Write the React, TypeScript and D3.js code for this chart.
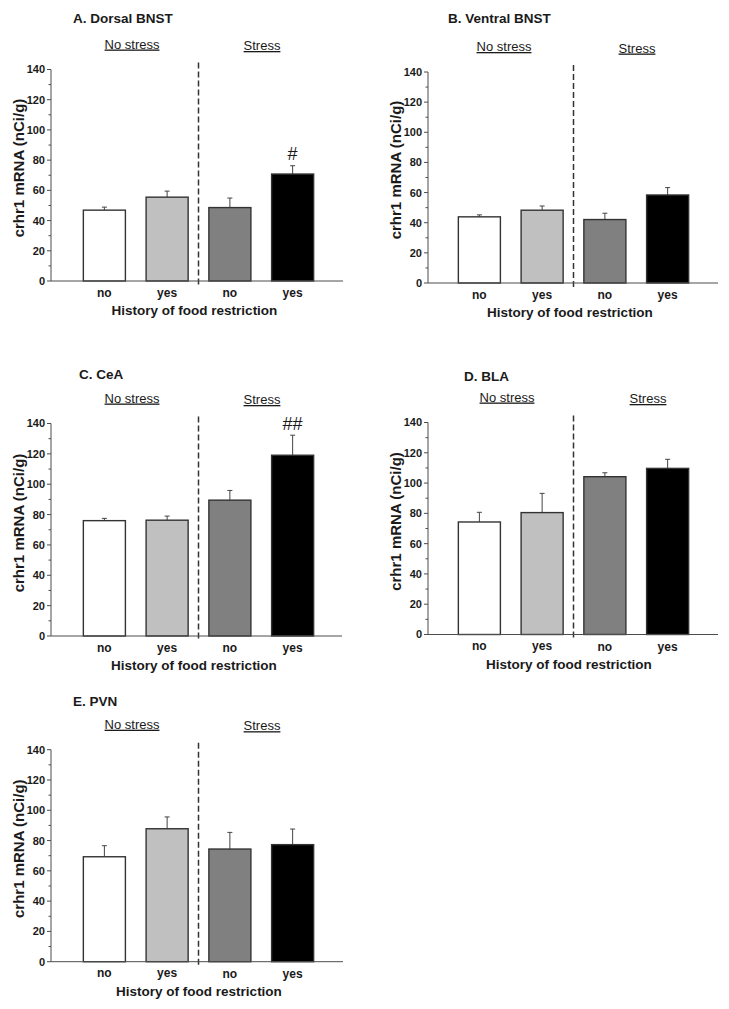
import React from "react";
import * as d3 from "d3";

// ---------- DATA ----------
const groupLabels = ["no", "yes", "no", "yes"];
const conditionLabels = ["No stress", "Stress"];
const yTicks = [0, 20, 40, 60, 80, 100, 120, 140];
const yMinorTicks = [10, 30, 50, 70, 90, 110, 130];
const yLabel = "crhr1 mRNA (nCi/g)";
const xLabel = "History of food restriction";
const panelTitles = ["A. Dorsal BNST", "B. Ventral BNST", "C. CeA", "D. BLA", "E. PVN"];

const meansA = [46.9, 55.5, 48.6, 70.8];
const errsA = [2.0, 4.0, 6.3, 5.5];
const marksA = ["", "", "", "#"];

const meansB = [43.9, 48.3, 42.1, 58.4];
const errsB = [1.3, 2.8, 4.2, 4.9];
const marksB = ["", "", "", ""];

const meansC = [76.0, 76.3, 89.5, 119.1];
const errsC = [1.5, 2.7, 6.4, 13.2];
const marksC = ["", "", "", "##"];

const meansD = [74.3, 80.5, 104.2, 109.7];
const errsD = [6.4, 12.7, 2.6, 6.0];
const marksD = ["", "", "", ""];

const meansE = [69.3, 87.8, 74.4, 77.3];
const errsE = [7.3, 7.8, 11.0, 10.3];
const marksE = ["", "", "", ""];

// ---------- STYLE / LAYOUT ----------
const barFills = ["#ffffff", "#c0c0c0", "#808080", "#000000"];
const FONT = "'Liberation Sans', Arial, sans-serif";
const TEXT = "#1a1a1a";
const AXIS = "#4d4d4d";

type PanelLayout = {
  left: number; right: number; y0: number; y140: number;
  bandStart: number; titleX: number; titleY: number;
  noStressX: number; stressX: number; xTitleX: number;
};

const layouts: PanelLayout[] = [
  { left: 51, right: 343, y0: 281, y140: 69.5, bandStart: 73, titleX: 73, titleY: 22.5, noStressX: 132, stressX: 262, xTitleX: 194.5 },
  { left: 428, right: 718, y0: 283, y140: 72, bandStart: 448, titleX: 448, titleY: 22.5, noStressX: 504, stressX: 637, xTitleX: 570 },
  { left: 51, right: 342, y0: 636, y140: 423.5, bandStart: 73, titleX: 79, titleY: 379, noStressX: 132, stressX: 262, xTitleX: 194 },
  { left: 428, right: 718, y0: 634.5, y140: 422.5, bandStart: 448, titleX: 464, titleY: 380.5, noStressX: 507, stressX: 648, xTitleX: 569 },
  { left: 51, right: 343, y0: 961.7, y140: 749.7, bandStart: 73, titleX: 73, titleY: 706, noStressX: 132, stressX: 262, xTitleX: 199 },
];

const panelData = [
  { means: meansA, errs: errsA, marks: marksA },
  { means: meansB, errs: errsB, marks: marksB },
  { means: meansC, errs: errsC, marks: marksC },
  { means: meansD, errs: errsD, marks: marksD },
  { means: meansE, errs: errsE, marks: marksE },
];

function Panel({ idx }: { idx: number }) {
  const L = layouts[idx];
  const { means, errs, marks } = panelData[idx];
  const y = d3.scaleLinear().domain([0, 140]).range([L.y0, L.y140]);
  const x = d3
    .scaleBand<number>()
    .domain(groupLabels.map((_, i) => i))
    .range([L.bandStart, L.bandStart + 251])
    .paddingInner(0.33)
    .paddingOuter(0.165);
  const bw = x.bandwidth();
  const dashX = ((x(1)! + bw) + x(2)!) / 2;

  return (
    <g>
      {/* title */}
      <text x={L.titleX} y={L.titleY} fontFamily={FONT} fontWeight="bold" fontSize={13.5} fill={TEXT}>
        {panelTitles[idx]}
      </text>
      {/* condition labels */}
      <text x={L.noStressX} y={L.y140 - 21} textAnchor="middle" fontFamily={FONT} fontSize={13} fill={TEXT}
        style={{ textDecoration: "underline" }}>
        {conditionLabels[0]}
      </text>
      <text x={L.stressX} y={L.y140 - 19.5} textAnchor="middle" fontFamily={FONT} fontSize={13} fill={TEXT}
        style={{ textDecoration: "underline" }}>
        {conditionLabels[1]}
      </text>

      {/* bars */}
      {means.map((m, i) => (
        <g key={i}>
          <line x1={x(i)! + bw / 2} x2={x(i)! + bw / 2} y1={y(m)} y2={y(m + errs[i])} stroke="#444" strokeWidth={1} />
          <line x1={x(i)! + bw / 2 - 2.5} x2={x(i)! + bw / 2 + 2.5} y1={y(m + errs[i])} y2={y(m + errs[i])} stroke="#444" strokeWidth={1} />
          <rect x={x(i)!} y={y(m)} width={bw} height={y(0) - y(m)} fill={barFills[i]} stroke="#333" strokeWidth={1.4} />
          {marks[i] && (
            <text x={x(i)! + bw / 2} y={y(m + errs[i]) - 5.5} textAnchor="middle" fontFamily={FONT} fontSize={18} fill={TEXT}>
              {marks[i]}
            </text>
          )}
        </g>
      ))}

      {/* dashed separator */}
      <line x1={dashX} x2={dashX} y1={L.y140 - 7} y2={L.y0 + 4} stroke="#333" strokeWidth={1.5} strokeDasharray="6,3" />

      {/* y axis */}
      <line x1={L.left} x2={L.left} y1={L.y140} y2={L.y0} stroke={AXIS} strokeWidth={1} />
      {yTicks.map((t) => (
        <g key={t}>
          <line x1={L.left - 4} x2={L.left} y1={y(t)} y2={y(t)} stroke={AXIS} strokeWidth={1} />
          <text x={L.left - 6} y={y(t)} dy="0.36em" textAnchor="end" fontFamily={FONT} fontWeight="bold" fontSize={11} fill={TEXT}>
            {t}
          </text>
        </g>
      ))}
      {yMinorTicks.map((t) => (
        <line key={t} x1={L.left - 2.5} x2={L.left} y1={y(t)} y2={y(t)} stroke={AXIS} strokeWidth={1} />
      ))}
      <text transform={`translate(${L.left - 32},${L.y0 - 113}) rotate(-90)`} textAnchor="middle" dy="0.35em"
        fontFamily={FONT} fontWeight="bold" fontSize={15} fill={TEXT}>
        {yLabel}
      </text>

      {/* x axis */}
      <line x1={L.left} x2={L.right} y1={L.y0} y2={L.y0} stroke={AXIS} strokeWidth={1} />
      {groupLabels.map((g, i) => (
        <text key={i} x={x(i)! + bw / 2} y={L.y0 + 15.5 + (i >= 2 ? 0.8 : 0)} textAnchor="middle" fontFamily={FONT} fontWeight="bold" fontSize={12} fill={TEXT}>
          {g}
        </text>
      ))}
      <text x={L.xTitleX} y={L.y0 + 34} textAnchor="middle" fontFamily={FONT} fontWeight="bold" fontSize={13.5} fill={TEXT}>
        {xLabel}
      </text>
    </g>
  );
}

export default function App() {
  return (
    <div style={{ position: "absolute", left: 0, top: 0 }}>
      <svg width={729} height={1009} style={{ display: "block", background: "#fff" }}>
        {layouts.map((_, i) => (
          <Panel key={i} idx={i} />
        ))}
      </svg>
    </div>
  );
}
